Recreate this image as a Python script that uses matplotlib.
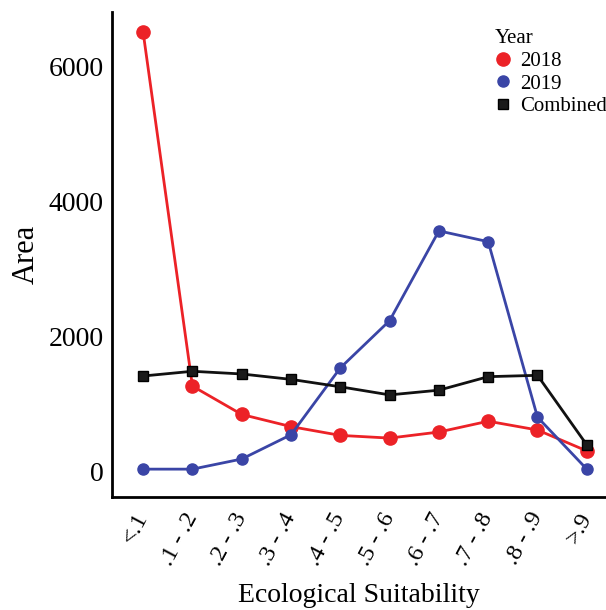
import numpy as np
import matplotlib
matplotlib.use('Agg')
import matplotlib.pyplot as plt
from matplotlib.lines import Line2D

# --- data ---
categories = ["<.1", ".1 - .2", ".2 - .3", ".3 - .4", ".4 - .5",
              ".5 - .6", ".6 - .7", ".7 - .8", ".8 - .9", ">.9"]
area_2018 = [6500, 1260, 840, 660, 530, 490, 580, 740, 610, 300]
area_2019 = [30, 30, 180, 540, 1530, 2230, 3560, 3400, 800, 30]
area_combined = [1410, 1480, 1440, 1360, 1250, 1130, 1200, 1400, 1420, 390]
y_ticks = [0, 2000, 4000, 6000]

RED = "#EC2227"
BLUE = "#3A45A6"
BLACK = "#111111"

plt.rcParams['font.family'] = ['Liberation Serif', 'DejaVu Serif']

fig = plt.figure(figsize=(6.06, 6.10), dpi=100)
ax = fig.add_axes([0.185, 0.185, 0.815, 0.795])

x = np.arange(len(categories))
ax.plot(x, area_2018, color=RED, lw=2, marker='o', ms=9.5, zorder=3)
ax.plot(x, area_2019, color=BLUE, lw=2, marker='o', ms=8, zorder=4)
ax.plot(x, area_combined, color=BLACK, lw=2, marker='s', ms=7.5,
        mfc="#1a1a1a", mec="black", zorder=5)

ax.set_xlim(-0.63, 9.39)
ax.set_ylim(-385, 6800)
ax.set_xticks(x)
ax.set_xticklabels(categories, rotation=62, ha='right', va='center',
                   rotation_mode='anchor', fontsize=17.5)
ax.set_yticks(y_ticks)
ax.tick_params(axis='both', length=0)
ax.tick_params(axis='y', labelsize=20, pad=6)
ax.tick_params(axis='x', pad=12)

for side in ['top', 'right']:
    ax.spines[side].set_visible(False)
for side in ['left', 'bottom']:
    ax.spines[side].set_linewidth(2)
    ax.spines[side].set_color('black')

ax.set_xlabel("Ecological Suitability", fontsize=20, labelpad=10)
ax.set_ylabel("Area", fontsize=22, labelpad=6)

handles = [
    Line2D([], [], ls='none', marker='o', ms=9.5, color=RED),
    Line2D([], [], ls='none', marker='o', ms=8, color=BLUE),
    Line2D([], [], ls='none', marker='s', ms=7.5, mfc="#1a1a1a", mec='black'),
]
ax.legend(handles, ["2018", "2019", "Combined"], title="Year",
          loc='upper left', bbox_to_anchor=(0.745, 0.995), frameon=False,
          fontsize=15, title_fontsize=15, alignment='left',
          handlelength=0.8, handletextpad=0.4, labelspacing=0.15,
          borderpad=0.2)

fig.savefig("out.png", dpi=100, facecolor='white')
